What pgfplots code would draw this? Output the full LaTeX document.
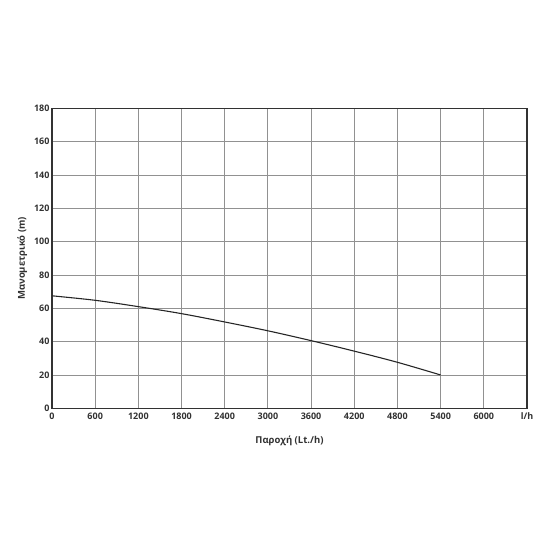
\documentclass[border=0pt]{standalone}
\usepackage{pgfplots}
\pgfplotsset{compat=1.18}
\usepackage{fontspec}
\setmainfont{Open Sans}
\definecolor{gridc}{RGB}{145,145,145}
\definecolor{txt}{RGB}{50,50,50}
\begin{document}
\begin{tikzpicture}[x=1pt,y=1pt]
\path[use as bounding box] (-52pt,-141.7pt) rectangle (498pt,408.3pt);
\begin{axis}[
  at={(0pt,0pt)}, anchor=south west,
  scale only axis, width=475pt, height=300pt,
  xmin=0, xmax=6600, ymin=0, ymax=180,
  xtick={0,600,...,6600},
  xticklabels={0,600,1200,1800,2400,3000,3600,4200,4800,5400,6000,l/h},
  ytick={0,20,...,180},
  grid=major,
  major grid style={gridc, line width=0.9pt},
  axis line style={txt, line width=1.2pt},
  major tick length=0pt,
  tick label style={font=\fontsize{9}{10}\selectfont\bfseries, text=txt},
  /pgf/number format/assume math mode=true,
  scaled ticks=false,
  xticklabel style={yshift=-1pt},
  yticklabel style={xshift=1pt},
  xlabel={Παροχή (Lt./h)},
  ylabel={Μανομετρικό (m)},
  label style={font=\fontsize{9.5}{11}\selectfont\bfseries, text=txt},
  xlabel style={yshift=-9pt},
  ylabel style={yshift=0pt},
]
\addplot[smooth, color=black!85, line width=1.1pt] coordinates {
(0,67.5) (600,64.8) (1200,61) (1800,56.8) (2400,51.8) (3000,46.5) (3600,40.6) (4200,34.3) (4800,27.6) (5400,20)
};
\end{axis}
\end{tikzpicture}
\end{document}
